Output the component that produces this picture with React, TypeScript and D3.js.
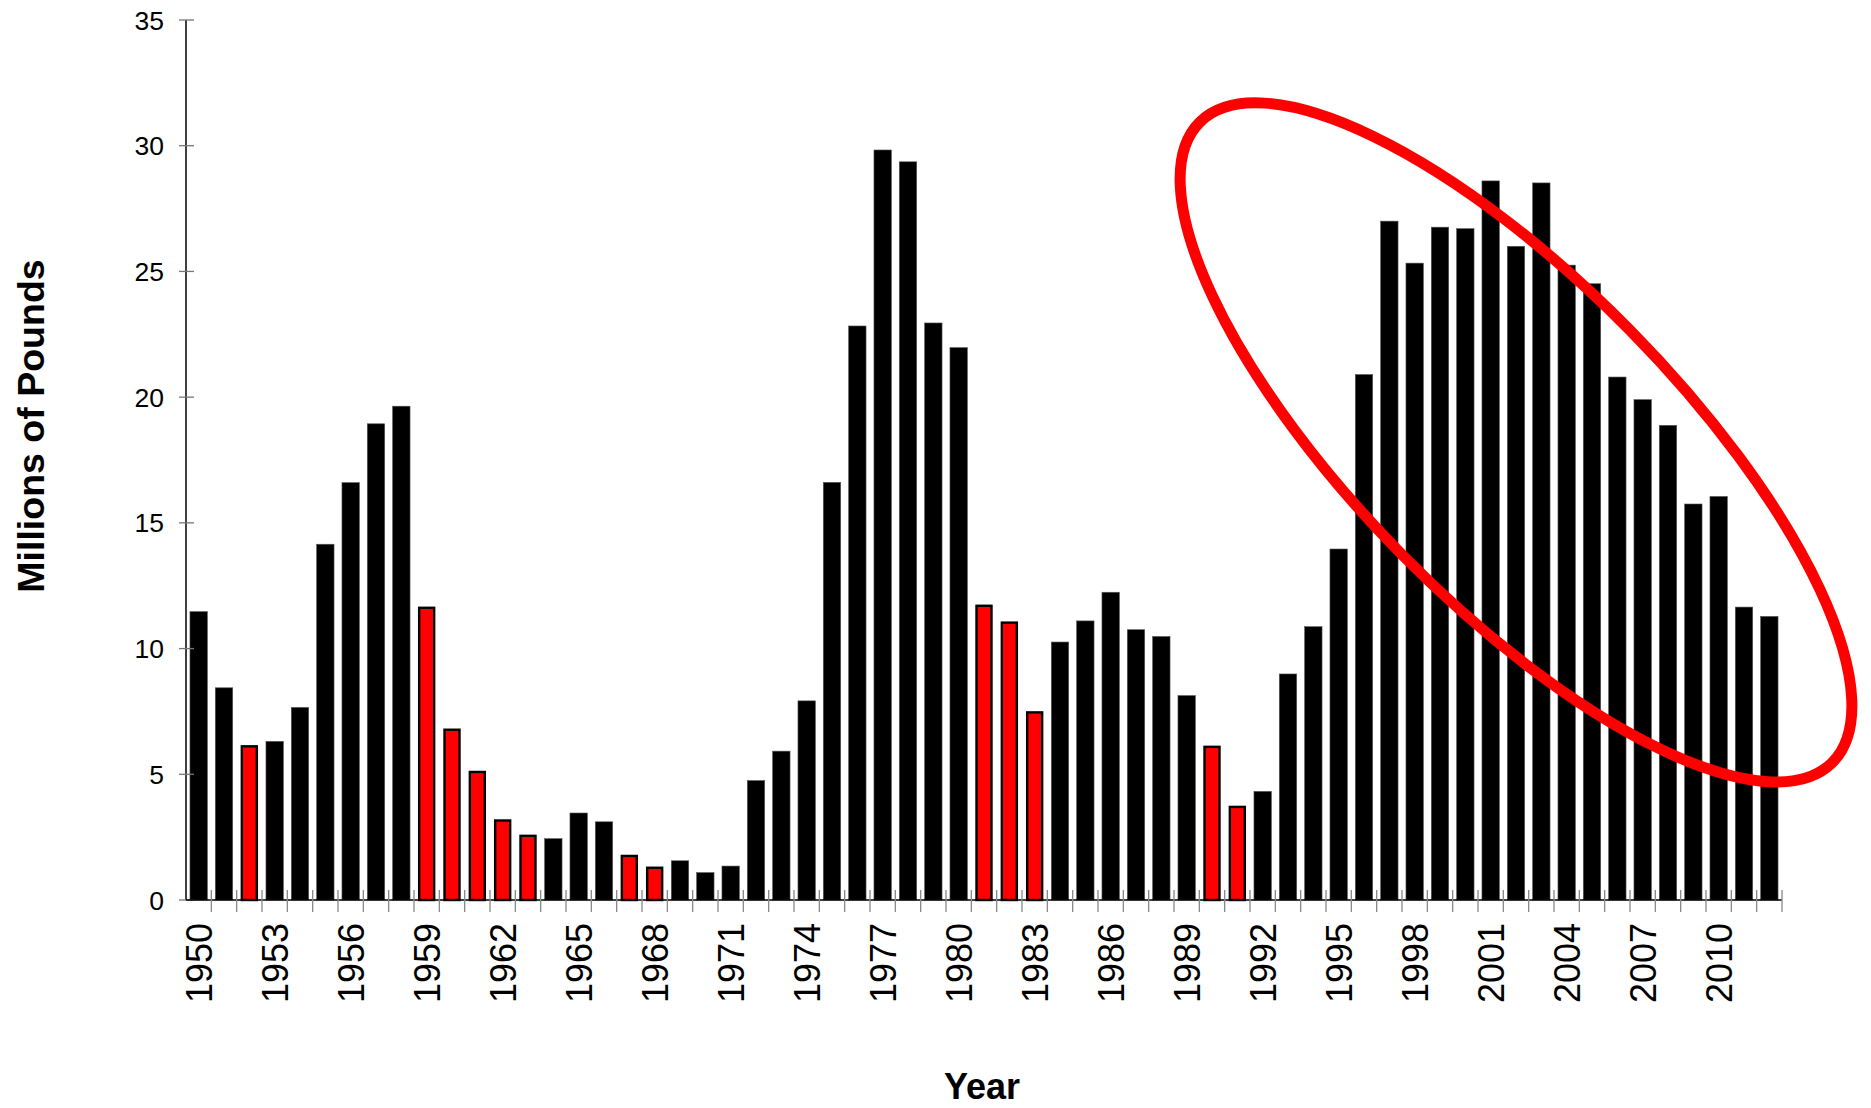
import React from 'react';
import * as d3 from 'd3';

const years: number[] = [
  1950, 1951, 1952, 1953, 1954, 1955, 1956, 1957, 1958, 1959,
  1960, 1961, 1962, 1963, 1964, 1965, 1966, 1967, 1968, 1969,
  1970, 1971, 1972, 1973, 1974, 1975, 1976, 1977, 1978, 1979,
  1980, 1981, 1982, 1983, 1984, 1985, 1986, 1987, 1988, 1989,
  1990, 1991, 1992, 1993, 1994, 1995, 1996, 1997, 1998, 1999,
  2000, 2001, 2002, 2003, 2004, 2005, 2006, 2007, 2008, 2009,
  2010, 2011, 2012,
];

const pounds: number[] = [
  11.47, 8.44, 6.16, 6.31, 7.66, 14.15, 16.6, 18.94, 19.64, 11.67,
  6.82, 5.14, 3.21, 2.6, 2.44, 3.46, 3.11, 1.8, 1.33, 1.56,
  1.09, 1.35, 4.75, 5.92, 7.92, 16.61, 22.83, 29.83, 29.36, 22.95,
  21.97, 11.75, 11.08, 7.51, 10.26, 11.1, 12.24, 10.75, 10.48, 8.13,
  6.14, 3.75, 4.32, 8.99, 10.87, 13.96, 20.9, 27.0, 25.33, 26.76,
  26.7, 28.6, 26.0, 28.52, 25.25, 24.51, 20.8, 19.9, 18.88, 15.75,
  16.05, 11.65, 11.28,
];

const redYears: number[] = [1952, 1959, 1960, 1961, 1962, 1963, 1967, 1968, 1981, 1982, 1983, 1990, 1991];

const yTicks: number[] = [0, 5, 10, 15, 20, 25, 30, 35];
const labelYears: number[] = [1950, 1953, 1956, 1959, 1962, 1965, 1968, 1971, 1974, 1977, 1980, 1983, 1986, 1989, 1992, 1995, 1998, 2001, 2004, 2007, 2010];

// annotation ellipse: center in data terms
const ellipseYear = 2002;
const ellipseValue = 18.2;

const W = 1871;
const H = 1108;
const FONT = "Arial, 'Liberation Sans', Helvetica, sans-serif";

export default function App() {
  const x = d3.scaleBand<number>().domain(years).range([186, 1782]).paddingInner(0).paddingOuter(0);
  const y = d3.scaleLinear().domain([0, 35]).range([900, 20]);
  const bw = x.bandwidth();
  const barW = 17.4;
  const y0 = y(0);

  const ecx = (x(ellipseYear) as number) + bw / 2;
  const ecy = y(ellipseValue);

  return (
    <svg width={W} height={H} style={{ position: 'absolute', left: 0, top: 0, display: 'block', background: '#fff' }}>
      <rect x={0} y={0} width={W} height={H} fill="#fff" />
      {/* bars */}
      {years.map((yr, i) => {
        const v = pounds[i];
        const cx = (x(yr) as number) + bw / 2;
        const isRed = redYears.includes(yr);
        if (isRed) {
          return (
            <rect key={yr} x={cx - barW / 2 + 1.2} y={y(v) + 1.2} width={barW - 2.4} height={y0 - y(v) - 1.2}
              fill="#ff0000" stroke="#000" strokeWidth={2.4} />
          );
        }
        return (
          <rect key={yr} x={cx - barW / 2} y={y(v)} width={barW} height={y0 - y(v)}
            fill="#000" stroke="#555" strokeWidth={0.6} />
        );
      })}

      {/* y axis */}
      <line x1={186} x2={186} y1={y(35)} y2={y0} stroke="#000" strokeWidth={1.5} />
      {yTicks.map((t) => (
        <g key={t}>
          <line x1={179} x2={194} y1={y(t)} y2={y(t)} stroke="#777" strokeWidth={1.3} />
          <text x={164} y={y(t)} dy="0.36em" textAnchor="end" fontFamily={FONT} fontSize={26.5} fill="#000">{t}</text>
        </g>
      ))}

      {/* x axis */}
      <line x1={186} x2={1782} y1={y0} y2={y0} stroke="#000" strokeWidth={1.5} />
      {years.map((yr) => {
        const tx = (x(yr) as number) + bw;
        return <line key={'t' + yr} x1={tx} x2={tx} y1={y0 - 10} y2={y0 + 12} stroke="#888" strokeWidth={1.3} />;
      })}
      {labelYears.map((yr) => {
        const cx = (x(yr) as number) + bw / 2;
        const ly = 923;
        return (
          <text key={'l' + yr} x={cx} y={ly} dy="0.36em" textAnchor="end" transform={`rotate(-90, ${cx}, ${ly})`}
            fontFamily={FONT} fontSize={36} fill="#000">{yr}</text>
        );
      })}

      {/* axis titles */}
      <text x={982} y={1099} textAnchor="middle" fontFamily={FONT} fontSize={36} fontWeight="bold" fill="#000">Year</text>
      <text x={44} y={426} textAnchor="middle" transform="rotate(-90, 44, 426)" fontFamily={FONT} fontSize={37.5} fontWeight="bold" fill="#000">Millions of Pounds</text>

      {/* annotation ellipse */}
      <ellipse cx={ecx} cy={ecy} rx={450} ry={160} transform={`rotate(45.4, ${ecx}, ${ecy})`}
        fill="none" stroke="#ff0000" strokeWidth={11} />
    </svg>
  );
}
